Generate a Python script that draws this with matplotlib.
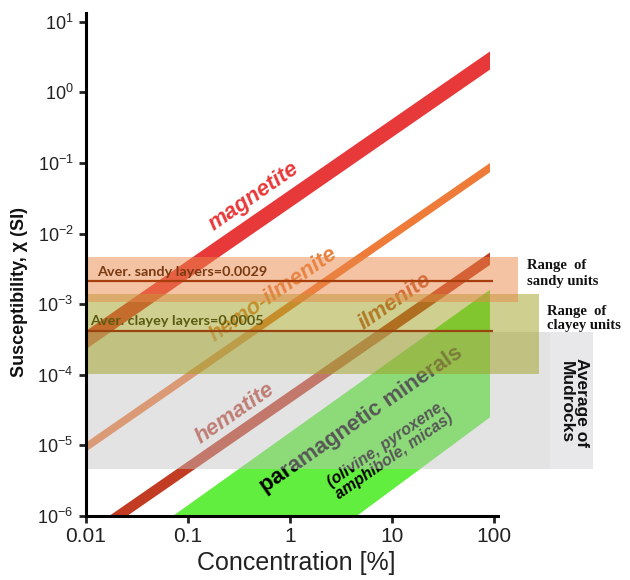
import math
import matplotlib
matplotlib.use("Agg")
import matplotlib.pyplot as plt
from matplotlib.ticker import FixedLocator, FixedFormatter, NullLocator

# ---------------- data ----------------
minerals = ["magnetite", "hemo-ilmenite", "ilmenite"]
mineral_conc = [0.01, 91]                 # concentration span (%) of each band
chi_low_end = [2.1, 0.074, 0.0036]        # lower edge of band at 91 %
chi_high_end = [3.8, 0.10, 0.0054]        # upper edge of band at 91 %

para_conc = [0.071, 91, 91, 4.5]          # paramagnetic minerals polygon
para_chi = [1e-6, 1.6e-3, 2.5e-5, 1e-6]

unit_names = ["sandy units", "clayey units", "Mudrocks"]
unit_low = [1.07e-3, 1.03e-4, 4.6e-6]
unit_high = [4.6e-3, 1.4e-3, 4.0e-4]
unit_xmax = [172, 278, 355]
mud_box_x = [355, 940]

avg_labels = ["Aver. sandy layers=0.0029", "Aver. clayey layers=0.0005"]
avg_values = [0.0021, 0.00042]
avg_conc = [0.01, 98]

x_ticks = [0.01, 0.1, 1, 10, 100]
x_ticklabels = ["0.01", "0.1", "1", "10", "100"]
y_exponents = [-6, -5, -4, -3, -2, -1, 0, 1]

# ---------------- style ----------------
plt.rcParams["font.family"] = ["Liberation Sans", "DejaVu Sans"]
plt.rcParams["mathtext.fontset"] = "custom"
plt.rcParams["mathtext.rm"] = "Liberation Sans"
plt.rcParams["mathtext.it"] = "Liberation Sans:italic"
plt.rcParams["mathtext.bf"] = "Liberation Sans:bold"

W, H = 630, 580
fig = plt.figure(figsize=(W / 100, H / 100), dpi=100)
ax = fig.add_axes([86 / W, 1 - 516 / H, (498 - 86) / W, (516 - 13) / H])
ax.set_xscale("log")
ax.set_yscale("log")
ax.set_xlim(0.01, 109)
ax.set_ylim(1e-6, 13.3)

mineral_colors = ["#e8393a", "#ee7b38", "#c23c24"]
label_colors = ["#e8393a", "#e8803c", "#c4542e"]

# mineral bands
for lo, hi, col in zip(chi_low_end, chi_high_end, mineral_colors):
    c0, c1 = mineral_conc
    k_lo, k_hi = lo / c1, hi / c1
    ax.fill([c0, c1, c1, c0], [k_lo * c0, lo, hi, k_hi * c0],
            color=col, lw=0, zorder=1)

ax.fill(para_conc, para_chi, color="#62ee3e", lw=0, zorder=1)

# angle of a slope-1 line in display space
fig.canvas.draw()
p1 = ax.transData.transform((1, 1e-4))
p2 = ax.transData.transform((10, 1e-3))
ang = math.degrees(math.atan2(p2[1] - p1[1], p2[0] - p1[0]))

lab_kw = dict(rotation=ang, ha="center", va="center", rotation_mode="anchor",
              fontweight="bold", fontstyle="italic", zorder=2)
ax.text(0.443, 0.033, "magnetite", color=label_colors[0], fontsize=16, **lab_kw)
ax.text(0.68, 1.35e-3, "hemo-ilmenite", color=label_colors[1], fontsize=16, **lab_kw)
ax.text(10.7, 1.1e-3, "ilmenite", color=label_colors[2], fontsize=16, **lab_kw)
ax.text(0.289, 2.8e-5, "hematite", color="#bc4636", fontsize=16, **lab_kw)
ax.text(4.97, 2.3e-5, "paramagnetic minerals", color="black", fontsize=16,
        rotation=ang, ha="center", va="center", rotation_mode="anchor",
        fontweight="bold", zorder=2)
ax.text(9.6, 8.6e-6, "(olivine, pyroxene,\namphibole, micas)", color="black",
        fontsize=11.5, linespacing=1.0, **lab_kw)

# unit ranges (transparent, on top)
unit_colors = ["#e8884a", "#a0a020", "#c2c2c2"]
unit_alpha = [0.5, 0.5, 0.45]
unit_z = [5, 4, 3]
for lo, hi, xm, col, a, z in zip(unit_low, unit_high, unit_xmax, unit_colors,
                                  unit_alpha, unit_z):
    ax.fill([0.01, xm, xm, 0.01], [lo, lo, hi, hi], color=col, alpha=a,
            lw=0, zorder=z, clip_on=False)
ax.fill([mud_box_x[0], mud_box_x[1], mud_box_x[1], mud_box_x[0]],
        [unit_low[2], unit_low[2], unit_high[2], unit_high[2]],
        color="#e8e8ea", lw=0, zorder=3, clip_on=False)

# averages
avg_line_colors = ["#a83e0c", "#9a4410"]
avg_text_colors = ["#7a3a12", "#5c5a10"]
avg_text_y = [2.9e-3, 5.7e-4]
avg_text_x = [0.0128, 0.0109]
for v, lab, lc, tc, tx, ty in zip(avg_values, avg_labels, avg_line_colors,
                                  avg_text_colors, avg_text_x, avg_text_y):
    ax.plot(avg_conc, [v, v], color=lc, lw=1.6, zorder=6, solid_capstyle="butt")
    ax.text(tx, ty, lab, color=tc, fontsize=10.4, fontweight="bold",
            family=["Lato", "DejaVu Sans"], ha="left", va="center", zorder=7)

# right-hand labels (figure pixel positions)
def ftext(px, py, s, **kw):
    fig.text(px / W, 1 - py / H, s, **kw)

serif = dict(family=["Liberation Serif", "DejaVu Serif"], fontweight="bold",
             fontsize=10.5, ha="left", va="center", color="#111111")
ftext(527, 266, "Range  of", **serif)
ftext(527, 281, "sandy units", **serif)
ftext(547, 311, "Range  of", **serif)
ftext(547, 326, "clayey units", **serif)
ftext(574, 402, "Average of\n" + unit_names[2], rotation=-90, ha="center",
      va="center", fontsize=12.5, fontweight="bold", linespacing=0.95,
      multialignment="center", color="#111111")

# axes styling
for s in ["top", "right"]:
    ax.spines[s].set_visible(False)
for s in ["left", "bottom"]:
    ax.spines[s].set_linewidth(2.2)
    ax.spines[s].set_zorder(10)

ax.xaxis.set_major_locator(FixedLocator(x_ticks))
ax.xaxis.set_major_formatter(FixedFormatter(x_ticklabels))
ax.xaxis.set_minor_locator(NullLocator())
ax.yaxis.set_major_locator(FixedLocator([10.0 ** e for e in y_exponents]))
ax.yaxis.set_major_formatter(FixedFormatter(
    [r"$\mathregular{10^{%d}}$" % e for e in y_exponents]))
ax.yaxis.set_minor_locator(NullLocator())
ax.tick_params(axis="both", which="major", direction="out", length=5,
               width=2, color="black")
ax.tick_params(axis="x", labelsize=15, pad=3, colors="#222222")
ax.tick_params(axis="y", labelsize=13, pad=4, colors="#222222")

ftext(20, 292, "Susceptibility, χ (SI)", rotation=90, ha="center", va="center",
      fontsize=13, fontweight="bold", color="#111111")
ftext(296, 563, "Concentration [%]", ha="center", va="center", fontsize=18,
      color="#222222")

fig.savefig("out.png", dpi=100)
